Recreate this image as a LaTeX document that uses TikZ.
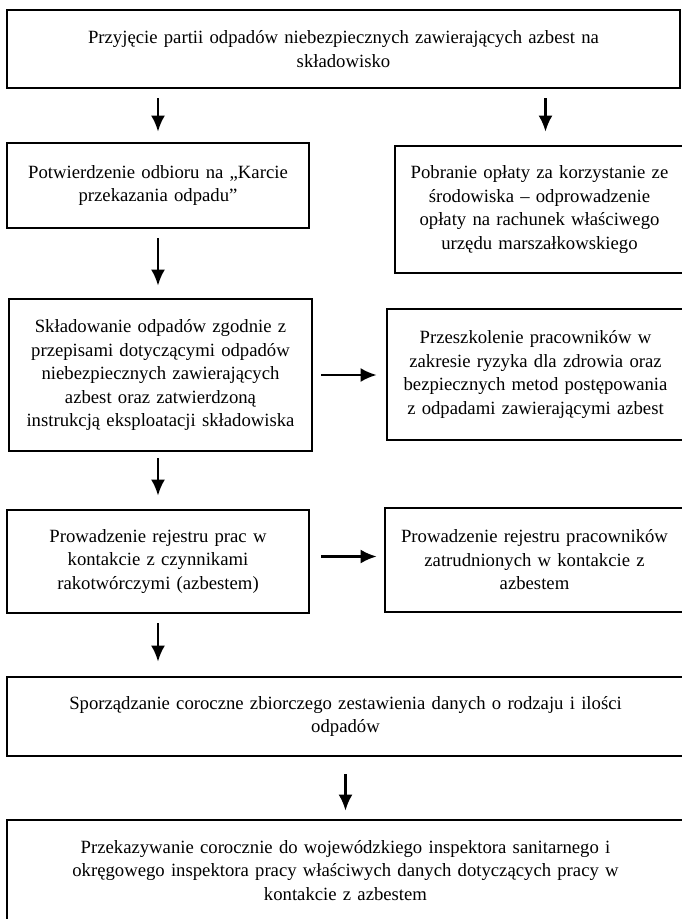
\documentclass[tikz,border=0pt]{standalone}
\usepackage{fontspec}
\setmainfont{Liberation Serif}
\usetikzlibrary{arrows.meta}

\begin{document}
\begin{tikzpicture} [x=1pt, y=-1pt]
    \tikzstyle{every node} = [align=center, font=\fontsize{18.7}{23.5}\selectfont]
    \tikzstyle{box} = [draw, line width=2.8pt, inner sep=0pt]
    \tikzstyle{arr} = [line width=2.4pt, -{Latex[length=16pt, width=14pt]}]
    \useasboundingbox (0,0) rectangle (681,919);
    \node [box, minimum width=673pt, minimum height=78pt, text width=660pt] (intake) at (343.5,49)
        {Przyjęcie partii odpadów niebezpiecznych zawierających azbest na \\ składowisko};
    \node [box, minimum width=302pt, minimum height=85pt, text width=298pt] (receipt) at (158,185.5)
        {Potwierdzenie odbioru na „Karcie \\ przekazania odpadu”};
    \node [box, minimum width=289pt, minimum height=127pt, text width=287pt] (fee) at (539.5,209.5)
        {Pobranie opłaty za korzystanie ze \\ środowiska – odprowadzenie \\ opłaty na rachunek właściwego \\ urzędu marszałkowskiego};
    \node [box, minimum width=303pt, minimum height=152pt, text width=301pt] (storage) at (160.5,375)
        {Składowanie odpadów zgodnie z \\ przepisami dotyczącymi odpadów \\ niebezpiecznych zawierających \\ azbest oraz zatwierdzoną \\ instrukcją eksploatacji składowiska};
    \node [box, minimum width=297pt, minimum height=131pt, text width=295pt] (training) at (535.5,374.5)
        {Przeszkolenie pracowników w \\ zakresie ryzyka dla zdrowia oraz \\ bezpiecznych metod postępowania \\ z odpadami zawierającymi azbest};
    \node [box, minimum width=302pt, minimum height=103pt, text width=298pt] (worklog) at (158,561.5)
        {Prowadzenie rejestru prac w \\ kontakcie z czynnikami \\ rakotwórczymi (azbestem)};
    \node [box, minimum width=299pt, minimum height=104pt, text width=297pt] (staff) at (534.5,560)
        {Prowadzenie rejestru pracowników \\ zatrudnionych w kontakcie z \\ azbestem};
    \node [box, minimum width=677pt, minimum height=79pt, text width=660pt] (summary) at (345.5,716.5)
        {Sporządzanie coroczne zbiorczego zestawienia danych o rodzaju i ilości \\ odpadów};
    \node [box, minimum width=677pt, minimum height=101pt, text width=660pt] (report) at (345.5,870.5)
        {Przekazywanie corocznie do wojewódzkiego inspektora sanitarnego i \\ okręgowego inspektora pracy właściwych danych dotyczących pracy w \\ kontakcie z azbestem};
    % arrows
    \draw [arr, shorten <=9pt, shorten >=10pt] (intake.south -| receipt.north) -- (receipt.north);
    \draw [arr, shorten <=9pt, shorten >=13pt] ([xshift=6pt]intake.south -| fee.north) -- ([xshift=6pt]fee.north);
    \draw [arr, shorten <=9pt, shorten >=12pt] (receipt.south) -- (receipt.south |- storage.north);
    \draw [arr, shorten <=6pt, shorten >=13pt] (storage.south -| worklog.north) -- (worklog.north);
    \draw [arr, shorten <=9pt, shorten >=14pt] (worklog.south) -- (worklog.south |- summary.north);
    \draw [arr, shorten <=17pt, shorten >=8pt] (summary.south) -- (report.north);
    \draw [arr, shorten <=8pt, shorten >=9pt] (storage.east) -- (storage.east -| training.west);
    \draw [arr, shorten <=11pt, shorten >=7pt] ([yshift=5pt]worklog.east) -- ([yshift=5pt]worklog.east -| staff.west);
\end{tikzpicture}
\end{document}
